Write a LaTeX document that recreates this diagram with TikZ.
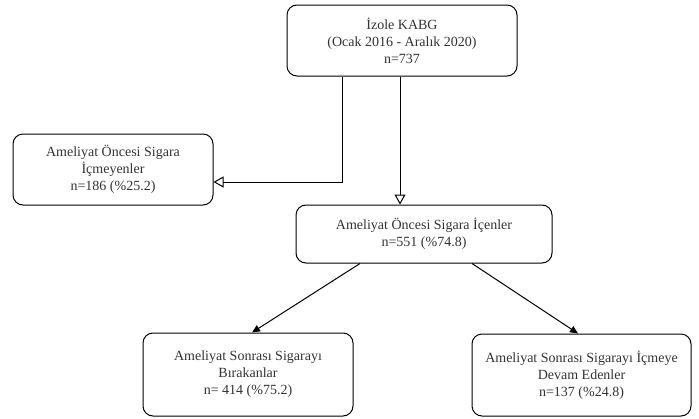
\documentclass[tikz,border=0pt]{standalone}
\usepackage{fontspec}
\setmainfont{Liberation Serif}
\usepackage{tikz}
\usetikzlibrary{arrows.meta, positioning}

\begin{document}
\begin{tikzpicture}[
    x=1pt, y=-1pt,
    flow box/.style = {
        rectangle,
        rounded corners=10pt,
        draw=black,
        line width=1pt,
        fill=white,
        text=black!80,
        align=center,
        inner sep=0pt,
        font=\rmfamily\fontsize{14}{17}\selectfont
    },
    open ptr/.style = {-{Triangle[open, length=10pt, width=11pt]}, line width=1pt},
    solid ptr/.style = {-{Triangle[length=8pt, width=7pt]}, line width=1pt}
]
\useasboundingbox (0,0) rectangle (699,418);

\node [flow box, minimum width=230pt, minimum height=71pt] (total) at (402,40.5)
    {İzole KABG\\(Ocak 2016 - Aralık 2020)\\n=737};
\node [flow box, minimum width=200pt, minimum height=71pt] (nonsmoker) at (113,169.5)
    {Ameliyat Öncesi Sigara\\İçmeyenler\\n=186 (\%25.2)};
\node [flow box, minimum width=256pt, minimum height=58pt] (smoker) at (424,234)
    {Ameliyat Öncesi Sigara İçenler\\n=551 (\%74.8)};
\node [flow box, minimum width=210pt, minimum height=83pt] (quit) at (248,374.5)
    {Ameliyat Sonrası Sigarayı\\Bırakanlar\\n= 414 (\%75.2)};
\node [flow box, minimum width=219pt, minimum height=82pt] (cont) at (581.5,375)
    {Ameliyat Sonrası Sigarayı İçmeye\\Devam Edenler\\n=137 (\%24.8)};

\draw[open ptr] ([xshift=-60pt]total.south) |- ([yshift=-12.5pt]nonsmoker.east);
\draw[open ptr] ([xshift=-2pt]total.south) -- ([xshift=-2pt]total.south |- smoker.north);

\draw[solid ptr] ([xshift=-64pt]smoker.south) -- ([xshift=4pt]quit.north);
\draw[solid ptr] ([xshift=48pt]smoker.south) -- ([xshift=-3.5pt]cont.north);

\end{tikzpicture}
\end{document}
